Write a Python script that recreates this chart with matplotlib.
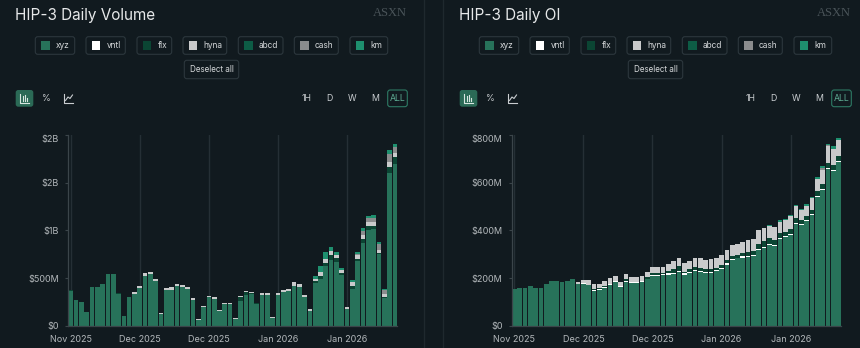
import matplotlib
matplotlib.use("Agg")
import matplotlib.pyplot as plt
from matplotlib.patches import FancyBboxPatch, Rectangle
from matplotlib.lines import Line2D
from matplotlib.transforms import Affine2D
import numpy as np

# ---- data (values in $M) ----
series = ["xyz", "vntl", "flx", "hyna", "abcd", "cash", "km"]
colors = ["#27725a", "#ffffff", "#0b4533", "#c9cacb", "#0d5c45", "#8a8c8d", "#1e8f6e"]
date_ticks = [0, 13, 26, 39, 52]
date_labels = ["Nov 2025", "Dec 2025", "Dec 2025", "Jan 2026", "Jan 2026"]

vol_xyz = [367, 265, 251, 143, 404, 408, 442, 540, 547, 333, 105, 300, 335, 391, 526, 537,
           471, 126, 377, 377, 415, 404, 384, 272, 59, 192, 297, 283, 150, 223, 223, 72,
           264, 324, 330, 223, 321, 321, 82, 327, 349, 359, 421, 408, 296, 153, 449, 488,
           624, 686, 665, 533, 174, 383, 679, 871, 1000, 1017, 749, 286, 1603, 1697]
vol_vntl = [0, 0, 0, 0, 0, 0, 0, 0, 0, 0, 0, 0, 0, 0, 0, 0, 0, 0, 0, 0, 0, 0, 0, 0, 0, 0,
            0, 0, 0, 0, 0, 0, 0, 0, 0, 0, 0, 0, 0, 0, 0, 0, 0, 0, 0, 0, 0, 0, 0, 0, 0, 0,
            0, 0, 0, 0, 0, 0, 0, 0, 0, 0]
vol_flx = [6, 0, 0, 0, 0, 0, 0, 0, 0, 5, 0, 0, 0, 0, 0, 0, 0, 0, 0, 0, 0, 0, 0, 0, 0, 0,
           0, 0, 0, 0, 0, 0, 38, 31, 10, 17, 0, 0, 0, 0, 0, 0, 0, 0, 0, 0, 21, 35, 35, 52,
           42, 21, 0, 35, 24, 42, 42, 24, 14, 10, 66, 77]
vol_hyna = [0, 0, 0, 0, 0, 0, 0, 0, 0, 0, 0, 0, 17, 24, 24, 24, 17, 10, 17, 24, 21, 21, 17,
            17, 14, 17, 17, 17, 14, 17, 17, 12, 12, 14, 12, 0, 17, 17, 12, 21, 24, 24, 35,
            28, 24, 21, 21, 42, 45, 45, 35, 28, 21, 38, 35, 40, 42, 42, 35, 35, 45, 35]
vol_abcd = [0, 0, 0, 0, 0, 0, 0, 0, 0, 0, 0, 0, 0, 0, 0, 0, 0, 0, 0, 0, 0, 0, 0, 0, 0, 0,
            0, 0, 0, 0, 0, 0, 0, 0, 0, 0, 0, 0, 0, 0, 0, 0, 0, 0, 0, 0, 0, 0, 0, 0, 0, 0,
            0, 0, 0, 0, 0, 0, 0, 0, 0, 0]
vol_cash = [0, 0, 0, 0, 0, 0, 0, 0, 0, 0, 0, 0, 0, 0, 0, 0, 0, 0, 0, 0, 0, 0, 0, 0, 0, 0,
            0, 0, 0, 0, 0, 0, 0, 0, 0, 0, 0, 0, 0, 0, 0, 0, 0, 0, 0, 0, 0, 0, 0, 0, 0, 0,
            0, 0, 17, 37, 49, 49, 56, 42, 87, 63]
vol_km = [0, 0, 0, 0, 0, 0, 0, 0, 0, 0, 0, 0, 0, 0, 0, 0, 0, 0, 0, 0, 0, 0, 0, 0, 0, 0,
          0, 0, 0, 0, 0, 0, 0, 0, 0, 0, 0, 0, 0, 0, 0, 0, 0, 0, 0, 0, 35, 66, 73, 45, 28,
          21, 0, 21, 21, 35, 21, 28, 28, 7, 38, 38]

oi_xyz = [153, 160, 160, 165, 158, 158, 173, 188, 187, 183, 187, 195, 174, 177, 169, 146,
          149, 158, 170, 183, 163, 185, 180, 180, 183, 194, 209, 209, 211, 214, 217, 225,
          214, 221, 228, 225, 220, 220, 228, 237, 256, 274, 282, 286, 287, 291, 319, 326,
          340, 333, 363, 371, 382, 425, 421, 441, 464, 540, 568, 657, 648, 686]
oi_vntl = [0, 0, 0, 0, 0, 0, 0, 0, 0, 0, 0, 0, 3, 4, 3, 3, 3, 3, 3, 3, 3, 3, 3, 3, 3, 4,
           5, 5, 5, 5, 5, 5, 5, 5, 5, 5, 5, 5, 5, 5, 5, 5, 4, 5, 5, 4, 4, 4, 4, 4, 6, 4,
           4, 4, 4, 4, 6, 4, 6, 6, 7, 7]
oi_flx = [0, 0, 0, 0, 0, 0, 0, 0, 0, 0, 0, 0, 0, 0, 0, 7, 5, 5, 4, 2, 0, 7, 0, 0, 0, 7,
          7, 7, 7, 11, 14, 20, 7, 10, 14, 13, 11, 11, 11, 11, 14, 14, 12, 14, 17, 18, 21,
          25, 24, 24, 18, 18, 21, 22, 20, 17, 17, 20, 22, 20, 20, 17]
oi_hyna = [0, 0, 0, 0, 0, 0, 0, 0, 0, 0, 0, 0, 7, 11, 18, 17, 20, 21, 22, 21, 18, 20, 21,
           21, 22, 21, 24, 24, 24, 28, 35, 33, 35, 35, 38, 40, 39, 42, 42, 45, 42, 47, 46,
           46, 49, 52, 59, 54, 49, 53, 50, 52, 52, 50, 39, 42, 49, 52, 59, 71, 67, 67]
oi_abcd = [0, 0, 0, 0, 0, 0, 0, 0, 0, 0, 0, 0, 0, 0, 0, 0, 0, 0, 0, 0, 0, 0, 0, 0, 0, 0,
           0, 0, 0, 0, 0, 0, 0, 0, 0, 0, 0, 0, 0, 0, 0, 0, 0, 0, 0, 0, 0, 0, 0, 0, 0, 0,
           0, 0, 0, 0, 0, 0, 0, 0, 0, 0]
oi_cash = [0, 0, 0, 0, 0, 0, 0, 0, 0, 0, 0, 0, 0, 0, 0, 0, 0, 0, 0, 0, 0, 0, 0, 0, 0, 0,
           0, 0, 0, 0, 0, 0, 0, 0, 0, 0, 0, 0, 0, 0, 0, 0, 0, 0, 0, 0, 0, 0, 0, 0, 0, 0,
           0, 0, 0, 0, 0, 0, 7, 3, 0, 3]
oi_km = [0, 0, 0, 0, 0, 0, 0, 0, 0, 0, 0, 0, 0, 0, 0, 0, 0, 0, 0, 0, 0, 0, 0, 0, 0, 0,
         0, 0, 0, 0, 0, 0, 0, 0, 0, 0, 0, 0, 0, 0, 0, 0, 0, 0, 0, 0, 0, 1, 4, 0, 5, 4, 5,
         7, 6, 5, 4, 7, 10, 7, 10, 8]

vol_ticks = [0, 500, 1000, 1500, 2000]
vol_labels = ["$0", "$500M", "$1B", "$2B", "$2B"]
oi_ticks = [0, 200, 400, 600, 800]
oi_labels = ["$0", "$200M", "$400M", "$600M", "$800M"]

BG = "#111a1f"
W, H = 860, 348

fig = plt.figure(figsize=(W / 100, H / 100), dpi=100, facecolor=BG)
plt.rcParams["font.family"] = ["Inter", "DejaVu Sans"]
# pixel coords, origin top-left
T = Affine2D().scale(0.01, -0.01).translate(0, H / 100) + fig.dpi_scale_trans


def rbox(x0, y0, x1, y1, fc, ec, r=3, lw=0.8):
    p = FancyBboxPatch((x0, y0), x1 - x0, y1 - y0, boxstyle=f"round,pad=0,rounding_size={r}",
                       fc=fc, ec=ec, lw=lw, transform=T)
    fig.add_artist(p)


def line(xs, ys, c="#c9cdd0", lw=0.8):
    fig.add_artist(Line2D(xs, ys, color=c, lw=lw, transform=T))


def draw_controls(ox, title):
    fig.text(15 + ox, 15.5, title, transform=T, color="#e6e8e9", fontsize=11, va="center")
    fig.text(407 + ox, 13, "ASXN", transform=T, color="#4a5459", fontsize=9, ha="right",
             va="center", family="Liberation Serif")
    edges = [(35.3, 74.7), (86, 125.3), (137, 171.7), (183, 226.7), (238.3, 283),
             (294.3, 338.3), (350, 387.7)]
    for (a, b), name, c in zip(edges, series, colors):
        rbox(a + ox, 36.7, b + ox, 54.3, BG, "#2c373d", r=2.5)
        fig.add_artist(Rectangle((a + ox + 5.7, 41.3), 8.7, 8.7, fc=c, ec="none", transform=T))
        fig.text(a + ox + 20.4, 46, name, transform=T, color="#d5d8da", fontsize=6,
                 va="center")
    rbox(184.3 + ox, 60.3, 238.7 + ox, 78.7, BG, "#2c373d", r=2.5)
    fig.text(211.5 + ox, 69.7, "Deselect all", transform=T, color="#d5d8da", fontsize=5.8,
             ha="center", va="center")
    # chart type icons
    rbox(15.7 + ox, 90, 33.3 + ox, 106.7, "#2b6a56", "none", r=2.5)
    line([20 + ox, 20 + ox, 29 + ox], [93.5, 102.5, 102.5], c="#d8e6e0")
    for bx, bt in zip([23, 25, 27], [96, 94.5, 97.5]):
        line([bx + ox, bx + ox], [bt, 101], c="#d8e6e0")
    fig.text(46 + ox, 98.5, "%", transform=T, color="#c9cdd0", fontsize=6.5,
             ha="center", va="center")
    line([64 + ox, 64 + ox, 73 + ox], [94, 102.5, 102.5])
    line([65.5 + ox, 68 + ox, 70 + ox, 72.5 + ox], [100.5, 97, 98.5, 95])
    for tx, t in zip([306.7, 329.7, 352.3, 375.3], ["1H", "D", "W", "M"]):
        fig.text(tx + ox, 98.5, t, transform=T, color="#c9cdd0", fontsize=6.3,
                 ha="center", va="center")
    rbox(387.7 + ox, 90, 407.3 + ox, 106.7, BG, "#2e7a64", r=2.5)
    fig.text(397.5 + ox, 98.5, "ALL", transform=T, color="#5fae95", fontsize=6.3,
             ha="center", va="center")


def draw_chart(ax_left, stack, ticks, labels):
    ax = fig.add_axes([ax_left / W, 1 - 325.7 / H, 329 / W, 190.7 / H])
    ax.set_facecolor(BG)
    x = np.arange(len(stack[0]))
    bottom = np.zeros(len(x))
    for vals, c in zip(stack, colors):
        v = np.array(vals, dtype=float)
        ax.bar(x, v, width=0.88, bottom=bottom, color=c, linewidth=0, zorder=2)
        bottom += v
    ax.set_xlim(-0.45, len(x) - 0.55)
    ax.set_ylim(0, ticks[-1])
    ax.set_yticks(ticks)
    ax.set_yticklabels(labels)
    ax.get_yticklabels()[-1].set_va("top")
    ax.set_xticks(date_ticks)
    ax.set_xticklabels(date_labels)
    ax.grid(axis="x", color="#252f35", lw=1, zorder=0)
    for s in ["top", "right"]:
        ax.spines[s].set_visible(False)
    for s in ["left", "bottom"]:
        ax.spines[s].set_color("#3b454a")
        ax.spines[s].set_linewidth(0.9)
    ax.tick_params(axis="y", length=2.5, color="#3b454a", pad=4.2, labelsize=6.5,
                   labelcolor="#b3b8bb")
    ax.tick_params(axis="x", length=0, pad=6.5, labelsize=6.5, labelcolor="#b3b8bb")
    return ax


draw_controls(0, "HIP-3 Daily Volume")
draw_controls(444, "HIP-3 Daily OI")
draw_chart(68.3, [vol_xyz, vol_vntl, vol_flx, vol_hyna, vol_abcd, vol_cash, vol_km],
           vol_ticks, vol_labels)
draw_chart(511.9, [oi_xyz, oi_vntl, oi_flx, oi_hyna, oi_abcd, oi_cash, oi_km],
           oi_ticks, oi_labels)

# panel borders
line([424.3, 424.3], [0, H], c="#1f292e", lw=1)
line([442.7, 442.7], [0, H], c="#1f292e", lw=1)

fig.savefig("out.png", dpi=100, facecolor=BG)
